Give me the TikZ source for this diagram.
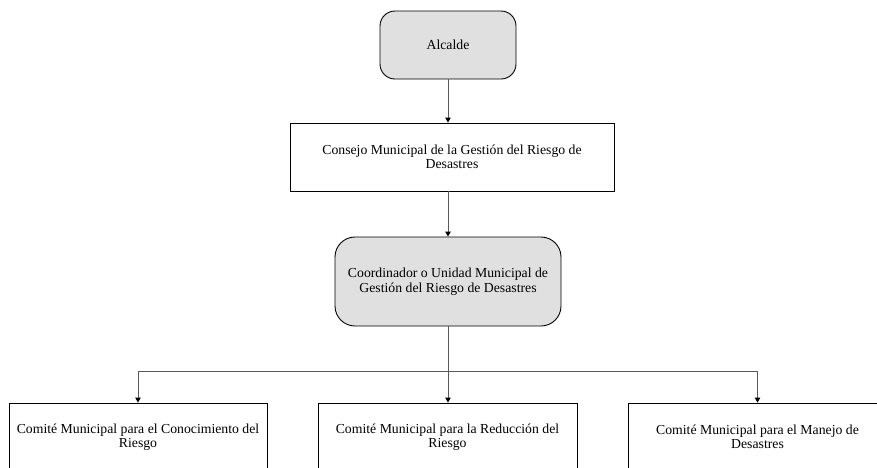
\documentclass[tikz,border=0pt]{standalone}
\usepackage{fontspec}
\setmainfont{Liberation Serif}
\usetikzlibrary{arrows.meta}
\definecolor{boxgray}{HTML}{E0E0E0}
\definecolor{linegray}{HTML}{5A5A5A}
\begin{document}
\begin{tikzpicture}[x=1pt,y=-1pt,
  every node/.style={font=\fontsize{13.75}{14.5}\selectfont, align=center, inner sep=0pt},
  plainbox/.style={draw=black, line width=0.9pt, fill=white, rectangle},
  roundbox/.style={draw=black, line width=0.9pt, fill=boxgray, rectangle},
  link/.style={draw=linegray, line width=0.9pt, -{Triangle[length=5pt,width=5.5pt,color=black]}}]
\useasboundingbox (0,0) rectangle (877,467);
\clip (0,0) rectangle (877,467);

% top level
\node[roundbox, rounded corners=15pt, minimum width=136pt, minimum height=68pt] (alc) at (448,45) {Alcalde};
\node[plainbox, minimum width=324pt, minimum height=68pt] (cons) at (452,157)
  {Consejo Municipal de la Gestión del Riesgo de\\Desastres};
\node[roundbox, rounded corners=20pt, minimum width=226pt, minimum height=89pt] (coord) at (448,281.5)
  {Coordinador o Unidad Municipal de\\Gestión del Riesgo de Desastres};

% committees
\node[plainbox, minimum width=258pt, minimum height=68pt] (com1) at (138,437)
  {Comité Municipal para el Conocimiento del\\Riesgo};
\node[plainbox, minimum width=259pt, minimum height=68pt] (com2) at (447.5,437)
  {Comité Municipal para la Reducción del\\Riesgo};
\node[plainbox, minimum width=259pt, minimum height=68pt] (com3) at (757.5,437)
  {Comité Municipal para el Manejo de\\Desastres};

\coordinate (bus) at (448,371);

% connectors
\draw[link] (alc.south) -- (alc.south |- cons.north);
\draw[link] (alc.south |- cons.south) -- (coord.north);
\draw[link] (coord.south) -- (bus) -| (com1.north);
\draw[link] (coord.south) -- (bus) -| (com3.north);
\draw[link] (bus) -- (bus |- com2.north);
\end{tikzpicture}
\end{document}
